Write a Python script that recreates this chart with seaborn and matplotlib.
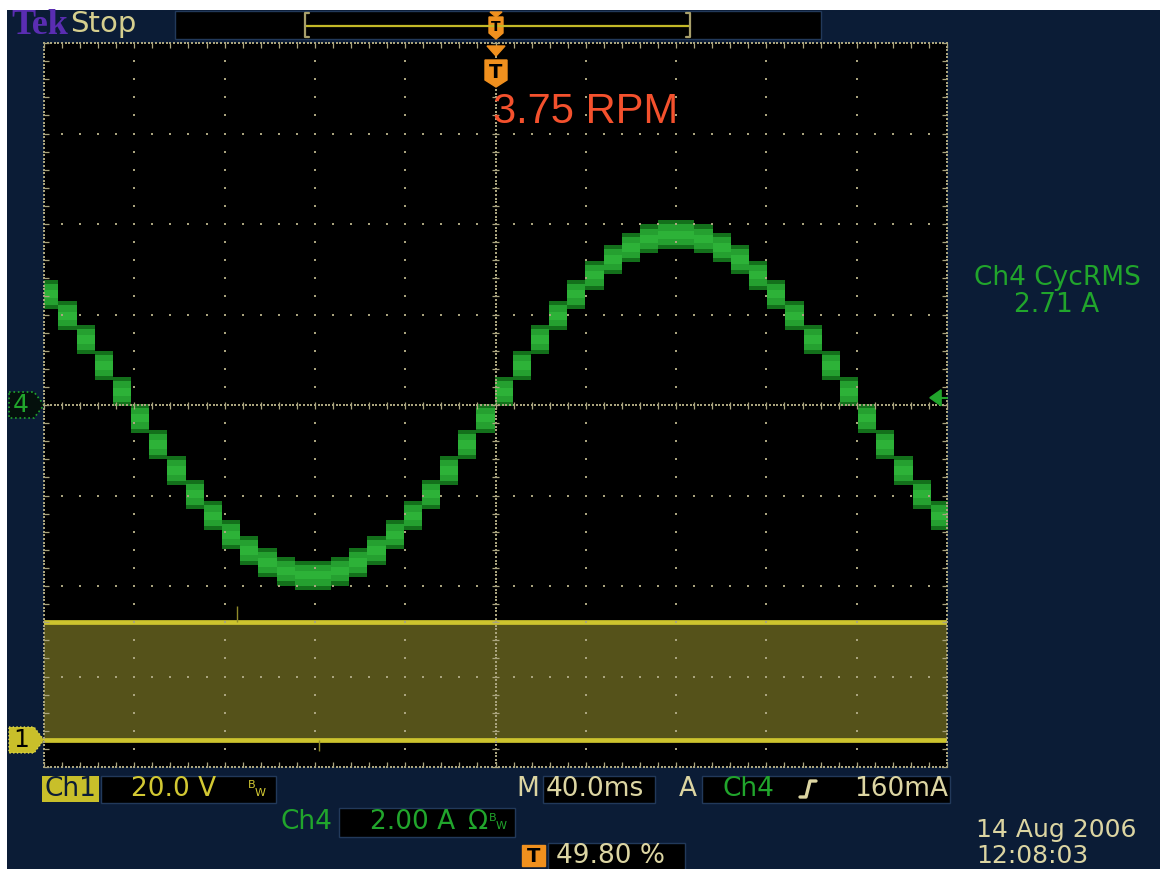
import numpy as np
import pandas as pd
import matplotlib
matplotlib.use("Agg")
import matplotlib.pyplot as plt
from matplotlib.patches import Rectangle, Polygon
from matplotlib import transforms
import seaborn as sns

# ------------------------------------------------------------------ data
ms_per_div = 40.0          # M 40.0ms
ch4_a_per_div = 2.0        # Ch4 2.00 A
ch1_v_per_div = 20.0       # Ch1 20.0 V
ch1_ground_div = -3.7      # Ch1 marker position (divisions from centre)

# Ch4: stepped (micro-stepping) motor phase current, one level per step
ch4_step_ms = 8.05
ch4_first_step_ms = -201.65
ch4_step_levels_a = [2.45, 1.97, 1.45, 0.88, 0.29, -0.29, -0.88, -1.45, -1.97, -2.45,
                     -2.87, -3.22, -3.48, -3.67, -3.76, -3.76, -3.67, -3.48, -3.22, -2.87,
                     -2.45, -1.97, -1.45, -0.88, -0.29, 0.29, 0.88, 1.45, 1.97, 2.45,
                     2.87, 3.22, 3.48, 3.67, 3.76, 3.76, 3.67, 3.48, 3.22, 2.87,
                     2.45, 1.97, 1.45, 0.88, 0.29, -0.29, -0.88, -1.45, -1.97, -2.45]
ch4_ripple_a = 0.32
ch4_trigger_level_a = 0.16

# Ch1: PWM drive voltage (dense envelope)
ch1_time_ms = [-200.0, 200.0]
ch1_high_v = [26.0, 26.0]
ch1_low_v = [0.0, 0.0]
ch1_glitch_ms = [-114.5, -78.0]
ch1_glitch_from_v = [26.0, 0.0]
ch1_glitch_to_v = [29.5, -2.5]

# readouts
rpm_text = "3.75 RPM"
meas_title = "Ch4 CycRMS"
meas_value = "2.71 A"
ch1_scale = "20.0 V"
ch4_scale = "2.00 A"
timebase = "40.0ms"
trig_src = "Ch4"
trig_level = "160mA"
trig_pos = "49.80 %"
date_txt = "14 Aug 2006"
time_txt = "12:08:03"

# ------------------------------------------------------------------ style
sns.set_theme(style="dark")
plt.rcParams['font.family'] = ['DejaVu Sans']

W, H = 1173, 869
NAVY = '#0b1c36'
GREEN = '#21a52c'
YEL = '#d2c833'
TAN = '#dcd5a2'
ORANGE = '#f0901e'
DOT = '#aaa47e'
FS = 19

fig = plt.figure(figsize=(W / 100, H / 100), dpi=100, facecolor='white')

# background (pixel coordinates)
bg = fig.add_axes([0, 0, 1, 1], zorder=0)
bg.set_xlim(0, W); bg.set_ylim(H, 0); bg.axis('off')
bg.add_patch(Rectangle((7, 10), 1153, 860, color=NAVY, lw=0))

# ------------------------------------------------------------------ plot area
rect = [44 / W, 1 - 767 / H, 903 / W, 724 / H]
ax1 = fig.add_axes(rect, zorder=1)
ax1.set_facecolor('black')

# Ch1 envelope
ax1.fill_between(ch1_time_ms, ch1_low_v, ch1_high_v, color='#55521a', lw=0, zorder=1)
df1 = pd.DataFrame({'t': ch1_time_ms + ch1_time_ms,
                    'v': ch1_high_v + ch1_low_v,
                    'edge': ['high', 'high', 'low', 'low']})
sns.lineplot(data=df1, x='t', y='v', units='edge', estimator=None, color='#cdc42e',
             lw=3.4, ax=ax1, legend=False, zorder=2)
ax1.vlines(ch1_glitch_ms, ch1_glitch_from_v, ch1_glitch_to_v, color='#8f8a2a', lw=1.0, zorder=2)
ax1.set_xlim(-5 * ms_per_div, 5 * ms_per_div)
ax1.set_ylim((-4 - ch1_ground_div) * ch1_v_per_div, (4 - ch1_ground_div) * ch1_v_per_div)

ax4 = ax1.twinx()
ax4.set_zorder(2)
ax4.patch.set_visible(False)

# Ch4 stepped trace
lev = np.array(ch4_step_levels_a + [ch4_step_levels_a[-1]])
edges = ch4_first_step_ms + np.arange(len(lev)) * ch4_step_ms
ax4.fill_between(edges, lev - ch4_ripple_a, lev + ch4_ripple_a, step='post',
                 color='#13701b', lw=0, zorder=2)
ax4.fill_between(edges, lev - 0.72 * ch4_ripple_a, lev + 0.72 * ch4_ripple_a, step='post',
                 color='#25a030', lw=0, zorder=2.1)
ax4.fill_between(edges, lev - 0.3 * ch4_ripple_a, lev + 0.3 * ch4_ripple_a, step='post',
                 color='#2db238', lw=0, zorder=2.2)
ax4.set_xlim(-5 * ms_per_div, 5 * ms_per_div)
ax4.set_ylim(-4 * ch4_a_per_div, 4 * ch4_a_per_div)

# graticule
xmaj = np.arange(-5, 6) * ms_per_div
ymaj = np.arange(-4, 5) * ch4_a_per_div
xs_minor = np.arange(-25, 26) * ms_per_div / 5
ys_minor = np.arange(-20, 21) * ch4_a_per_div / 5
xs_dense = np.arange(-125, 126) * ms_per_div / 25
ys_dense = np.arange(-100, 101) * ch4_a_per_div / 25
px_ms = ms_per_div / 90.3
px_a = ch4_a_per_div / 90.5
px, py = [], []
for xv in xmaj:
    ys = ys_dense if (xv == 0 or abs(xv) == 5 * ms_per_div) else ys_minor
    px += [xv] * len(ys); py += list(ys)
for yv in ymaj:
    xs = xs_dense if (yv == 0 or abs(yv) == 4 * ch4_a_per_div) else xs_minor
    px += list(xs); py += [yv] * len(xs)
ax4.scatter(px, py, s=2.6, marker='s', c=DOT, linewidths=0, zorder=6, clip_on=False)
tk = dict(color=DOT, lw=0.9, zorder=6, clip_on=False)
ax4.hlines(ys_minor, -3.5 * px_ms, 3.5 * px_ms, **tk)
ax4.vlines(xs_minor, -3.5 * px_a, 3.5 * px_a, **tk)
ax4.hlines(ys_minor, -5 * ms_per_div, -5 * ms_per_div + 5 * px_ms, **tk)
ax4.hlines(ys_minor, 5 * ms_per_div - 5 * px_ms, 5 * ms_per_div, **tk)
ax4.vlines(xs_minor, 4 * ch4_a_per_div - 5 * px_a, 4 * ch4_a_per_div, **tk)
ax4.vlines(xs_minor, -4 * ch4_a_per_div, -4 * ch4_a_per_div + 5 * px_a, **tk)

# trigger level arrow (right edge)
bt = transforms.blended_transform_factory(ax4.transAxes, ax4.transData)
ax4.add_patch(Polygon([(0.981, ch4_trigger_level_a), (0.9935, ch4_trigger_level_a + 8 * px_a),
                       (0.9935, ch4_trigger_level_a - 8 * px_a)], closed=True,
                      color=GREEN, transform=bt, clip_on=False, zorder=7))
ax4.plot([0.99, 1.0], [ch4_trigger_level_a] * 2, color=GREEN, lw=1.5, transform=bt,
         clip_on=False, zorder=7)

for a in (ax1, ax4):
    a.set_xticks([]); a.set_yticks([])
    a.set_xlabel(''); a.set_ylabel('')
    for s in a.spines.values():
        s.set_visible(False)
    a.grid(False)

# ------------------------------------------------------------------ overlay (pixels)
fg = fig.add_axes([0, 0, 1, 1], zorder=5)
fg.set_xlim(0, W); fg.set_ylim(H, 0); fg.axis('off')
fg.patch.set_visible(False)


def box(x, y, w, h, fc='black'):
    bg.add_patch(Rectangle((x, y), w, h, facecolor=fc, edgecolor='#22395a', lw=1))


def txt(x, y, s, color=TAN, size=FS, ha='left', on=None, **kw):
    (on or bg).text(x, y, s, color=color, fontsize=size, ha=ha, va='center', **kw)


# header
txt(11, 26, "Tek", color='#5a2db2', size=26, family='Liberation Serif', weight='bold')
txt(70, 24, "Stop", color='#d6cf8e', size=21)
box(175, 11, 646, 28)
bg.plot([305, 690], [26, 26], color='#c4b827', lw=1.6)
for xb, d in ((305, 1), (690, -1)):
    bg.plot([xb + 4 * d, xb, xb, xb + 4 * d], [13, 13, 37, 37], color='#a89f6a', lw=1.6)
bg.add_patch(Polygon([(490, 12), (502, 12), (496, 17)], color=ORANGE))
bg.add_patch(Polygon([(489, 17), (503, 17), (503, 33), (496, 39), (489, 33)], color=ORANGE))
txt(496, 27, "T", color='black', size=10, ha='center', weight='bold')

# trigger position marker under top border
fg.add_patch(Polygon([(487, 46), (505, 46), (496, 56)], color=ORANGE))
fg.add_patch(Polygon([(485, 60), (507, 60), (507, 80), (496, 87), (485, 80)], color=ORANGE))
txt(496, 72, "T", color='black', size=14, ha='center', weight='bold', on=fg)
txt(493, 112, rpm_text, color='#f4512d', size=30, family='Liberation Sans', on=fg)

# channel markers on the left
bg.add_patch(Polygon([(9, 392), (34, 392), (44, 405), (34, 418), (9, 418)], closed=True,
                     facecolor='#04100c', edgecolor=GREEN, lw=1.2, ls=':'))
txt(21, 405, "4", color=GREEN, size=18, ha='center')
bg.add_patch(Polygon([(9, 727), (34, 727), (44, 740), (34, 753), (9, 753)], closed=True,
                     facecolor='#c9bf2a', edgecolor='#e0d84a', lw=1.0, ls=':'))
txt(21, 740, "1", color='black', size=18, ha='center')

# measurement readout on the right
txt(1057, 278, meas_title, color=GREEN, size=FS, ha='center')
txt(1057, 305, meas_value, color=GREEN, size=FS, ha='center')

# bottom readouts
bg.add_patch(Rectangle((42, 776), 57, 26, color='#c8bf2a', lw=0))
txt(70.5, 789, "Ch1", color=NAVY, size=FS, ha='center')
box(101, 776, 175, 27)
txt(174, 789, ch1_scale, color=YEL, size=FS, ha='center')
txt(248, 785, "B", color=YEL, size=8)
txt(255, 793, "W", color=YEL, size=8)

txt(516, 789, "M", color=TAN)
box(543, 776, 112, 27)
txt(546, 789, timebase, color=TAN)
txt(679, 789, "A", color=TAN)
box(702, 776, 248, 27)
txt(723, 789, trig_src, color=GREEN)
bg.plot([800, 806, 810, 816], [797, 797, 781, 781], color=TAN, lw=2.4)
txt(948, 789, trig_level, color=TAN, ha='right')

txt(281, 822, "Ch4", color=GREEN)
box(339, 808, 176, 29)
txt(370, 822, ch4_scale, color=GREEN)
txt(468, 822, "Ω", color=GREEN)
txt(489, 818, "B", color=GREEN, size=8)
txt(496, 826, "W", color=GREEN, size=8)

bg.add_patch(Polygon([(522, 845), (545, 845), (545, 866), (522, 866)], color=ORANGE))
txt(533.5, 856, "T", color='black', size=14, ha='center', weight='bold')
box(548, 843, 137, 27)
txt(556, 856, trig_pos, color=TAN)

txt(976, 830, date_txt, color=TAN, size=18)
txt(976, 856, time_txt, color=TAN, size=18)

fig.savefig("out.png", dpi=100, facecolor='white')
